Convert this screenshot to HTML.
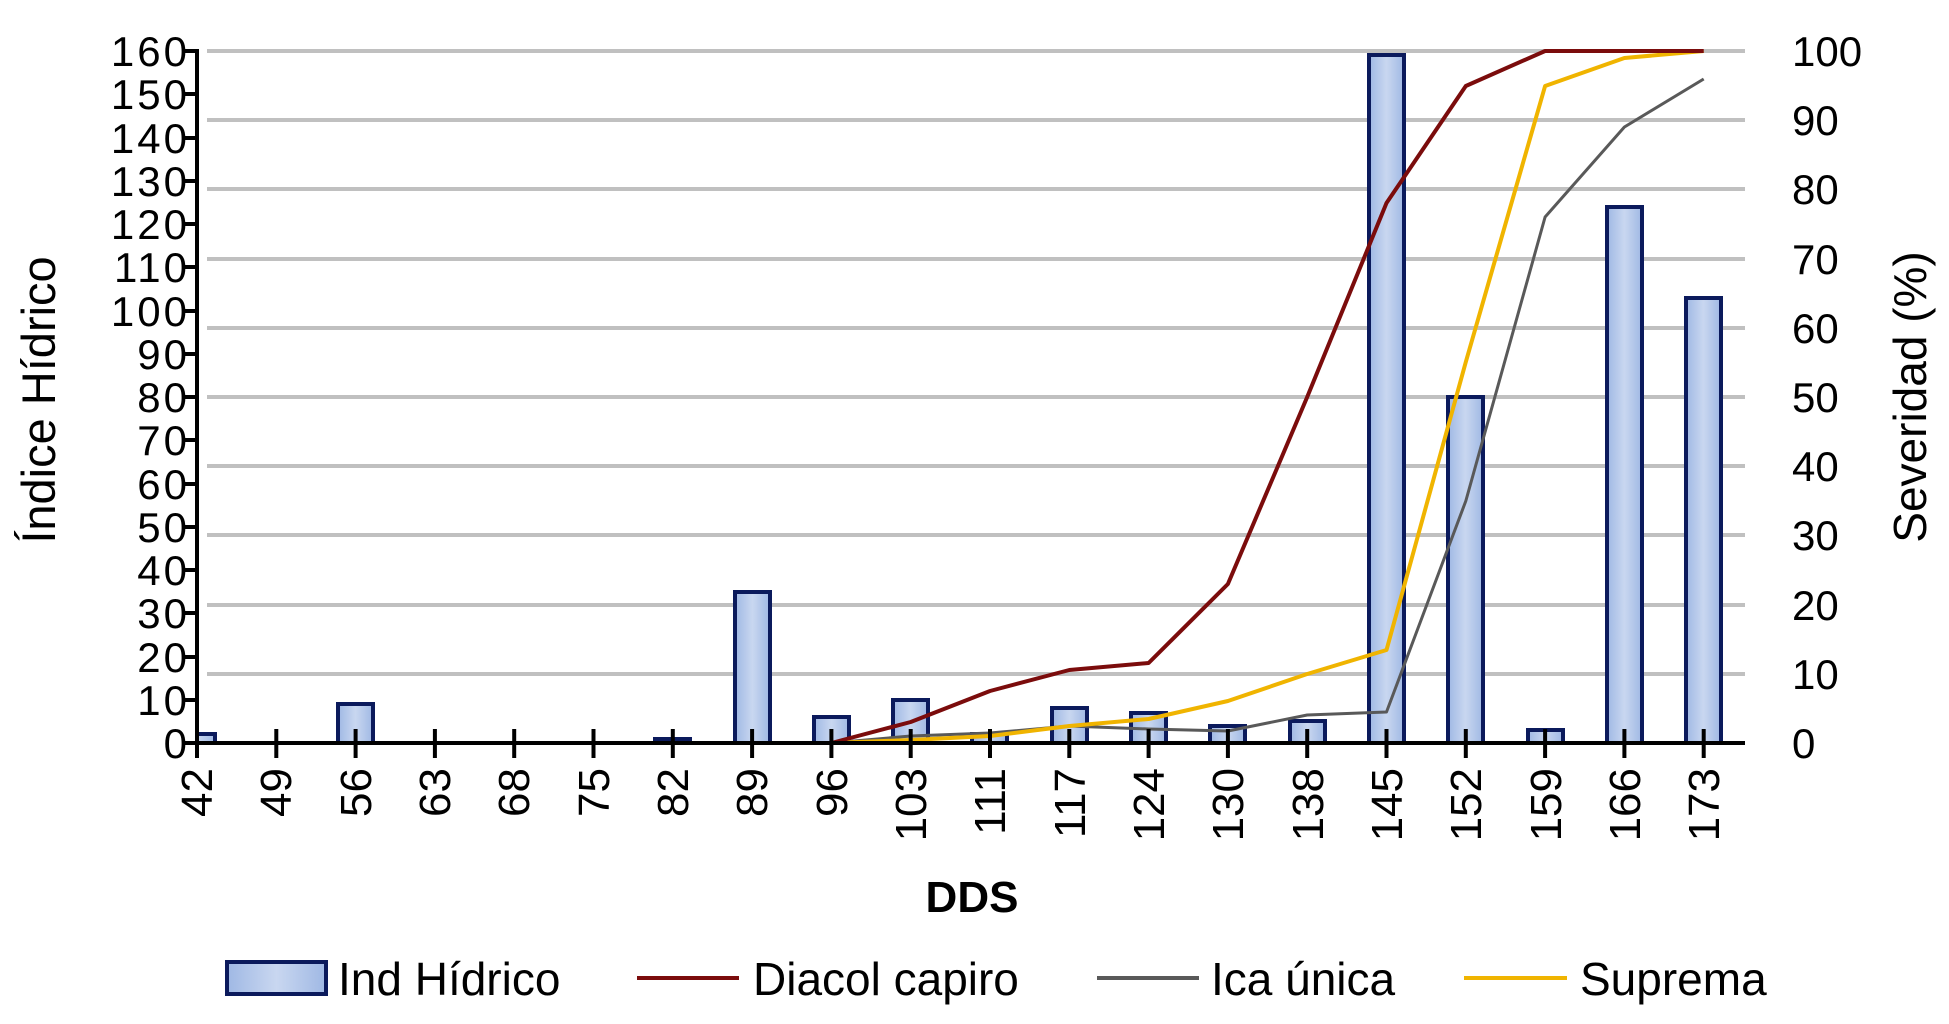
<!DOCTYPE html>
<html><head><meta charset="utf-8"><style>html,body{margin:0;padding:0;background:#fff}svg{display:block}</style></head>
<body>
<svg width="1949" height="1024" viewBox="0 0 1949 1024" xmlns="http://www.w3.org/2000/svg" font-family="'Liberation Sans',sans-serif">
<defs>
<linearGradient id="g" x1="0" y1="0" x2="1" y2="0"><stop offset="0" stop-color="#9fb8e4"/><stop offset="0.5" stop-color="#c9d7f0"/><stop offset="1" stop-color="#9fb8e4"/></linearGradient>
<clipPath id="c"><rect x="199" y="0" width="1560" height="745"/></clipPath>
</defs>
<g stroke="#c0c0c0" stroke-width="4">
<line x1="207" x2="1745" y1="51" y2="51"/><line x1="207" x2="1745" y1="120" y2="120"/><line x1="207" x2="1745" y1="189" y2="189"/><line x1="207" x2="1745" y1="259" y2="259"/><line x1="207" x2="1745" y1="328" y2="328"/><line x1="207" x2="1745" y1="397" y2="397"/><line x1="207" x2="1745" y1="466" y2="466"/><line x1="207" x2="1745" y1="535" y2="535"/><line x1="207" x2="1745" y1="605" y2="605"/><line x1="207" x2="1745" y1="674" y2="674"/>
</g>
<g clip-path="url(#c)" fill="url(#g)" stroke="#0b1a5c" stroke-width="4">
<rect x="180" y="734" width="35" height="9"/>
<rect x="338" y="704" width="35" height="39"/>
<rect x="655" y="739" width="35" height="4"/>
<rect x="735" y="592" width="35" height="151"/>
<rect x="814" y="717" width="35" height="26"/>
<rect x="893" y="700" width="35" height="43"/>
<rect x="972" y="734" width="35" height="9"/>
<rect x="1052" y="708" width="35" height="35"/>
<rect x="1131" y="713" width="35" height="30"/>
<rect x="1210" y="726" width="35" height="17"/>
<rect x="1290" y="721" width="35" height="22"/>
<rect x="1369" y="55" width="35" height="688"/>
<rect x="1448" y="397" width="35" height="346"/>
<rect x="1528" y="730" width="35" height="13"/>
<rect x="1607" y="207" width="35" height="536"/>
<rect x="1686" y="298" width="35" height="445"/>
</g>
<g fill="none" stroke-linejoin="round">
<polyline stroke="#595959" stroke-width="3" points="831.4,743 910.7,736 990,733 1069.3,726 1148.6,729 1227.9,731 1307.2,715 1386.5,712 1465.8,501 1545.1,217 1624.4,127 1703.7,79"/>
<polyline stroke="#f0b400" stroke-width="4" points="831.4,743 910.7,740 990,736 1069.3,726 1148.6,719 1227.9,701 1307.2,674 1386.5,650 1465.8,362 1545.1,86 1624.4,58 1703.7,51"/>
<polyline stroke="#7b0c0c" stroke-width="4" points="831.4,743 910.7,722 990,691 1069.3,670 1148.6,663 1227.9,584 1307.2,397 1386.5,203 1465.8,86 1545.1,51 1624.4,51 1703.7,51"/>
</g>
<g stroke="#000" stroke-width="4">
<line x1="197" y1="49" x2="197" y2="745"/>
<line x1="185" y1="743" x2="1745" y2="743"/>
<line x1="185" x2="197" y1="51" y2="51"/><line x1="185" x2="197" y1="94" y2="94"/><line x1="185" x2="197" y1="138" y2="138"/><line x1="185" x2="197" y1="181" y2="181"/><line x1="185" x2="197" y1="224" y2="224"/><line x1="185" x2="197" y1="267" y2="267"/><line x1="185" x2="197" y1="311" y2="311"/><line x1="185" x2="197" y1="354" y2="354"/><line x1="185" x2="197" y1="397" y2="397"/><line x1="185" x2="197" y1="440" y2="440"/><line x1="185" x2="197" y1="484" y2="484"/><line x1="185" x2="197" y1="527" y2="527"/><line x1="185" x2="197" y1="570" y2="570"/><line x1="185" x2="197" y1="613" y2="613"/><line x1="185" x2="197" y1="657" y2="657"/><line x1="185" x2="197" y1="700" y2="700"/>
<line x1="197" x2="197" y1="729" y2="758"/><line x1="276.3" x2="276.3" y1="729" y2="758"/><line x1="355.6" x2="355.6" y1="729" y2="758"/><line x1="434.9" x2="434.9" y1="729" y2="758"/><line x1="514.2" x2="514.2" y1="729" y2="758"/><line x1="593.5" x2="593.5" y1="729" y2="758"/><line x1="672.8" x2="672.8" y1="729" y2="758"/><line x1="752.1" x2="752.1" y1="729" y2="758"/><line x1="831.4" x2="831.4" y1="729" y2="758"/><line x1="910.7" x2="910.7" y1="729" y2="758"/><line x1="990" x2="990" y1="729" y2="758"/><line x1="1069.3" x2="1069.3" y1="729" y2="758"/><line x1="1148.6" x2="1148.6" y1="729" y2="758"/><line x1="1227.9" x2="1227.9" y1="729" y2="758"/><line x1="1307.2" x2="1307.2" y1="729" y2="758"/><line x1="1386.5" x2="1386.5" y1="729" y2="758"/><line x1="1465.8" x2="1465.8" y1="729" y2="758"/><line x1="1545.1" x2="1545.1" y1="729" y2="758"/><line x1="1624.4" x2="1624.4" y1="729" y2="758"/><line x1="1703.7" x2="1703.7" y1="729" y2="758"/>
</g>
<g font-size="42" fill="#000" text-anchor="end" letter-spacing="3">
<text x="190" y="66">160</text><text x="190" y="109">150</text><text x="190" y="153">140</text><text x="190" y="196">130</text><text x="190" y="239">120</text><text x="190" y="282">110</text><text x="190" y="326">100</text><text x="190" y="369">90</text><text x="190" y="412">80</text><text x="190" y="455">70</text><text x="190" y="499">60</text><text x="190" y="542">50</text><text x="190" y="585">40</text><text x="190" y="628">30</text><text x="190" y="672">20</text><text x="190" y="715">10</text><text x="190" y="758">0</text>
</g>
<g font-size="42" fill="#000" text-anchor="start">
<text x="1792" y="66">100</text><text x="1792" y="135">90</text><text x="1792" y="204">80</text><text x="1792" y="274">70</text><text x="1792" y="343">60</text><text x="1792" y="412">50</text><text x="1792" y="481">40</text><text x="1792" y="550">30</text><text x="1792" y="620">20</text><text x="1792" y="689">10</text><text x="1792" y="758">0</text>
</g>
<g font-size="44" fill="#000" text-anchor="end">
<text transform="translate(212,768) rotate(-90)">42</text>
<text transform="translate(291,768) rotate(-90)">49</text>
<text transform="translate(371,768) rotate(-90)">56</text>
<text transform="translate(450,768) rotate(-90)">63</text>
<text transform="translate(529,768) rotate(-90)">68</text>
<text transform="translate(609,768) rotate(-90)">75</text>
<text transform="translate(688,768) rotate(-90)">82</text>
<text transform="translate(767,768) rotate(-90)">89</text>
<text transform="translate(847,768) rotate(-90)">96</text>
<text transform="translate(926,768) rotate(-90)">103</text>
<text transform="translate(1005,768) rotate(-90)">111</text>
<text transform="translate(1085,768) rotate(-90)">117</text>
<text transform="translate(1164,768) rotate(-90)">124</text>
<text transform="translate(1243,768) rotate(-90)">130</text>
<text transform="translate(1323,768) rotate(-90)">138</text>
<text transform="translate(1402,768) rotate(-90)">145</text>
<text transform="translate(1481,768) rotate(-90)">152</text>
<text transform="translate(1561,768) rotate(-90)">159</text>
<text transform="translate(1640,768) rotate(-90)">166</text>
<text transform="translate(1719,768) rotate(-90)">173</text>
</g>
<text transform="translate(55,400) rotate(-90)" font-size="47" text-anchor="middle">Índice Hídrico</text>
<text transform="translate(1926,397) rotate(-90)" font-size="46" text-anchor="middle">Severidad (%)</text>
<text x="972" y="912" font-size="44" font-weight="bold" text-anchor="middle">DDS</text>
<rect x="227" y="962" width="99" height="32" fill="url(#g)" stroke="#0b1a5c" stroke-width="4"/>
<text x="338" y="995" font-size="46">Ind Hídrico</text>
<line x1="637" x2="739" y1="978" y2="978" stroke="#7b0c0c" stroke-width="4"/>
<text x="753" y="995" font-size="46">Diacol capiro</text>
<line x1="1097" x2="1199" y1="978" y2="978" stroke="#595959" stroke-width="4"/>
<text x="1211" y="995" font-size="46">Ica única</text>
<line x1="1464" x2="1567" y1="978" y2="978" stroke="#f0b400" stroke-width="4"/>
<text x="1580" y="995" font-size="46">Suprema</text>
</svg>
</body></html>
